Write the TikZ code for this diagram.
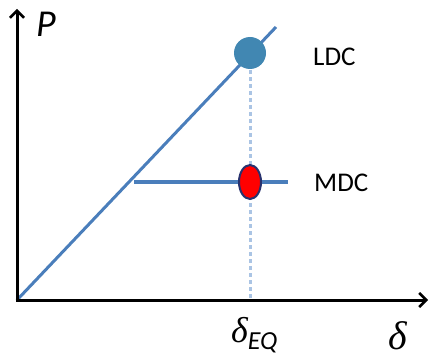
\documentclass[tikz,border=0pt]{standalone}
\usepackage{fontspec}
\setmainfont{Carlito}
\newfontfamily\grk{Liberation Serif}
\usetikzlibrary{arrows.meta,shapes.geometric}
\definecolor{lineblue}{RGB}{74,126,187}
\definecolor{ldcblue}{RGB}{65,135,178}
\definecolor{dotblue}{RGB}{170,196,228}
\definecolor{navy}{RGB}{40,50,110}
\tikzset{
  axis/.style={line width=3pt,-{Straight Barb[length=7pt,width=14pt,line width=2.5pt]}},
  curve/.style={line width=3pt,lineblue},
  lbl/.style={font=\fontsize{27}{30}\selectfont,anchor=west,inner sep=0pt},
}
\begin{document}
\begin{tikzpicture}[x=1pt,y=-1pt]
\useasboundingbox (0,0) rectangle (430,358);
\coordinate (O) at (17,300);
\coordinate (ytop) at (17,9);
\coordinate (xend) at (428,300);
\coordinate (dtop) at (276,27);
\coordinate (hl) at (134,182);
\coordinate (hr) at (288,182);
\coordinate (base) at (250,300);
\draw[dotblue,line width=3pt,dash pattern=on 4pt off 3pt] (250,70) -- (base);
\draw[curve] (O) -- (dtop);
\draw[line width=4pt,lineblue] (hl) -- (hr);
\node[circle,fill=ldcblue,minimum size=32pt,inner sep=0pt] (ldc) at (250,53) {};
\node[ellipse,fill=red,draw=navy,line width=2pt,minimum width=22pt,minimum height=34pt,inner sep=0pt] (mdc) at (250,182) {};
\draw[axis] (O) -- (ytop);
\draw[axis] ([xshift=-1.5pt]O) -- (xend);
\node[lbl] (ldcl) at (313,57) {LDC};
\node[lbl] (mdcl) at (314,183) {MDC};
\node[font=\fontsize{38}{40}\selectfont\itshape,inner sep=0pt,anchor=base west] (P) at (36,37) {P};
\node[inner sep=0pt,anchor=base west] (dEQ) at (231,342) {{\grk\itshape\fontsize{36}{38}\selectfont δ}\raisebox{-7pt}{\fontsize{26}{28}\selectfont\itshape EQ}};
\node[inner sep=0pt,anchor=base west] (d) at (388,349) {\grk\itshape\fontsize{40}{42}\selectfont δ};
\end{tikzpicture}
\end{document}
